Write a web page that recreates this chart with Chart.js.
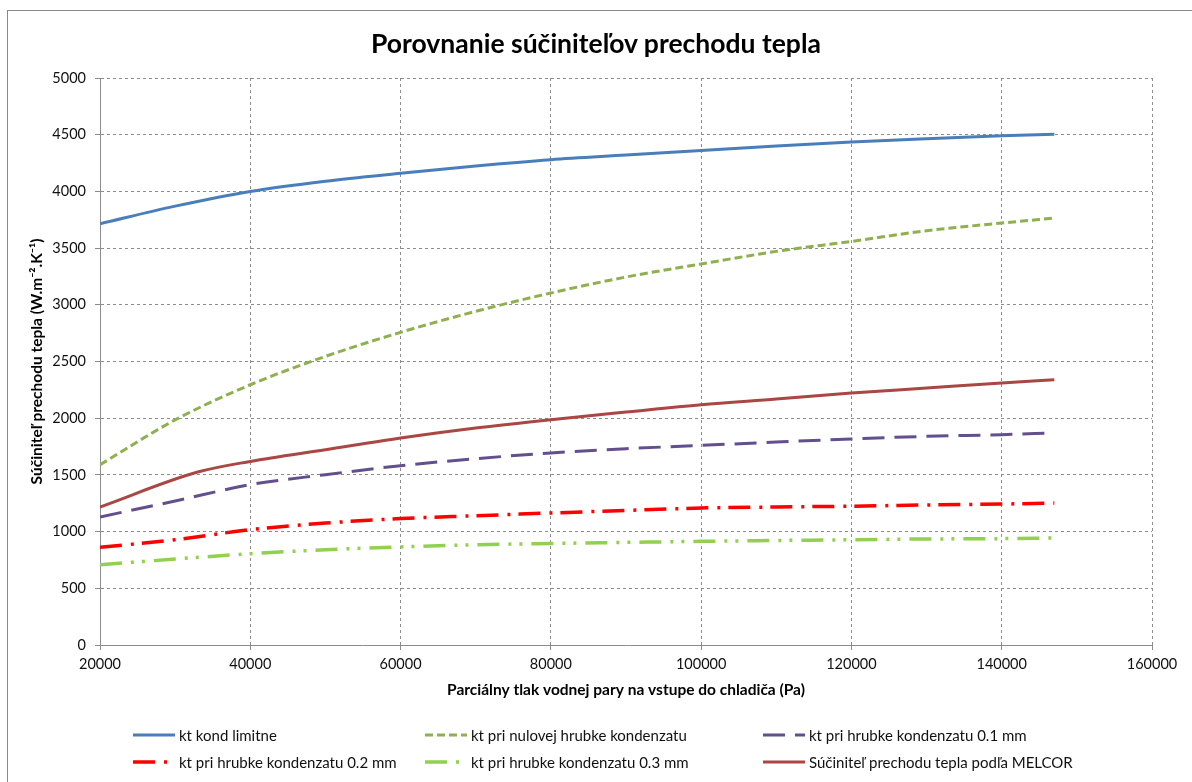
<!DOCTYPE html>
<html>
<head>
<meta charset="utf-8">
<script src="https://cdn.jsdelivr.net/npm/chart.js@4/dist/chart.umd.min.js"></script>
<style>
  body { margin: 0; background: #fff; }
  #wrap { position: relative; width: 1192px; height: 782px; overflow: hidden; font-family: Lato, "Noto Sans", sans-serif; }
  #frame { position: absolute; left: 7px; top: 10px; width: 1300px; height: 900px; border-left: 1px solid #8a8a8a; border-top: 1px solid #8a8a8a; }
  #chart { position: absolute; left: 0; top: 0; }
  #title { position: absolute; left: 0; top: 28px; width: 1192px; text-align: center; font-size: 26.5px; line-height: 30px; font-weight: bold; color: #000; }
  #legend { position: absolute; left: 0; top: 0; width: 1192px; height: 782px; pointer-events: none; }
  .item { position: absolute; display: flex; align-items: center; font-size: 15px; color: #111; white-space: nowrap; }
  .item svg { margin-right: 4px; }
</style>
</head>
<body>
<div id="wrap">
  <div id="frame"></div>
  <canvas id="chart" width="1192" height="782"></canvas>
  <div id="title">Porovnanie súčiniteľov prechodu tepla</div>
  <div id="legend"></div>
</div>
<script>
const FONT = 'Lato, "Noto Sans", sans-serif';

// x values (Pa)
const pressure = [20000, 30000, 40000, 50000, 60000, 70000, 80000, 90000, 100000, 110000, 120000, 130000, 140000, 147000];
const pressureMelcor = [20000, 33000, 40000, 50000, 60000, 70000, 80000, 90000, 100000, 110000, 120000, 130000, 140000, 147000];
const xTicks = [20000, 40000, 60000, 80000, 100000, 120000, 140000, 160000];
const yTicks = [0, 500, 1000, 1500, 2000, 2500, 3000, 3500, 4000, 4500, 5000];

// series (W.m-2.K-1)
const ktLimit   = [3715, 3870, 4000, 4090, 4160, 4225, 4280, 4320, 4360, 4400, 4436, 4465, 4491, 4503];
const ktZero    = [1590, 1985, 2295, 2545, 2757, 2942, 3104, 3245, 3360, 3471, 3559, 3653, 3721, 3765];
const kt01      = [1129, 1270, 1414, 1502, 1581, 1643, 1693, 1731, 1760, 1790, 1817, 1840, 1855, 1870];
const kt02      = [861, 928, 1017, 1075, 1115, 1140, 1164, 1187, 1208, 1217, 1224, 1235, 1243, 1252];
const kt03      = [708, 758, 805, 840, 865, 884, 895, 905, 914, 922, 928, 935, 938, 944];
const ktMelcor  = [1217, 1525, 1619, 1722, 1825, 1913, 1987, 2054, 2119, 2169, 2222, 2266, 2310, 2339];

const names = [
  'kt kond limitne',
  'kt pri nulovej hrubke kondenzatu',
  'kt pri hrubke kondenzatu 0.1 mm',
  'kt pri hrubke kondenzatu 0.2 mm',
  'kt pri hrubke kondenzatu 0.3 mm',
  'Súčiniteľ prechodu tepla podľa MELCOR'
];

function pts(xs, ys) { return xs.map((x, i) => ({ x: x, y: ys[i] })); }

const datasets = [
  { label: names[0], data: pts(pressure, ktLimit),  borderColor: '#4a7ebb', borderWidth: 3, borderDash: [] },
  { label: names[1], data: pts(pressure, ktZero),   borderColor: '#8fb04f', borderWidth: 3, borderDash: [8, 4] },
  { label: names[2], data: pts(pressure, kt01),     borderColor: '#634f8e', borderWidth: 3, borderDash: [22, 10] },
  { label: names[3], data: pts(pressure, kt02),     borderColor: '#ff0000', borderWidth: 3.5, borderDash: [22, 9, 3, 8] },
  { label: names[4], data: pts(pressure, kt03),     borderColor: '#92d050', borderWidth: 3.5, borderDash: [22, 9, 3, 8, 3, 9] },
  { label: names[5], data: pts(pressureMelcor, ktMelcor), borderColor: '#aa4643', borderWidth: 3, borderDash: [] }
];

const gridColor = '#8c8c8c';

new Chart(document.getElementById('chart'), {
  type: 'line',
  data: { datasets: datasets },
  options: {
    responsive: false,
    animation: false,
    layout: { padding: { left: 0, right: 40, top: 78, bottom: 77 } },
    elements: { point: { radius: 0 }, line: { cubicInterpolationMode: 'monotone', borderCapStyle: 'butt' } },
    plugins: {
      legend: { display: false },
      tooltip: { enabled: false },
      title: { display: false }
    },
    scales: {
      x: {
        type: 'linear',
        min: xTicks[0],
        max: xTicks[xTicks.length - 1],
        afterBuildTicks: s => { s.ticks = xTicks.map(v => ({ value: v })); },
        afterFit: s => { s.height = 60; },
        ticks: { color: '#111', font: { family: FONT, size: 14.5 }, padding: 6, maxRotation: 0, callback: v => String(v) },
        grid: { color: gridColor, tickColor: gridColor, tickLength: 5, tickBorderDash: [] },
        border: { color: gridColor, width: 1, dash: [3, 3] },
        title: {
          display: true,
          text: 'Parciálny tlak vodnej pary na vstupe do chladiča (Pa)',
          color: '#000',
          font: { family: FONT, size: 15.5, weight: 'bold' },
          padding: { top: 0, bottom: 6 }
        }
      },
      y: {
        min: yTicks[0],
        max: yTicks[yTicks.length - 1],
        afterBuildTicks: s => { s.ticks = yTicks.map(v => ({ value: v })); },
        afterFit: s => { s.width = 100; },
        ticks: { color: '#111', font: { family: FONT, size: 14.5 }, padding: 9, callback: v => String(v) },
        grid: { color: gridColor, tickColor: gridColor, tickLength: 5, tickBorderDash: [] },
        border: { color: gridColor, width: 1, dash: [3, 3] },
        title: {
          display: true,
          text: 'Súčiniteľ prechodu tepla (W.m⁻².K⁻¹)',
          color: '#000',
          font: { family: FONT, size: 15.5, weight: 'bold' },
          padding: { top: 28, bottom: 0 }
        }
      }
    }
  }
});

// legend in three columns, two rows
const legendCols = [133, 425, 763];
const legendRows = [735, 762];
const legend = document.getElementById('legend');
datasets.forEach((ds, i) => {
  const div = document.createElement('div');
  div.className = 'item';
  div.style.left = legendCols[i % 3] + 'px';
  div.style.top = (legendRows[Math.floor(i / 3)] - 10) + 'px';
  div.style.height = '20px';
  const dash = ds.borderDash.length ? ds.borderDash.join(' ') : 'none';
  div.innerHTML = '<svg width="42" height="20"><line x1="0" y1="10" x2="42" y2="10" stroke="' + ds.borderColor +
    '" stroke-width="' + ds.borderWidth + '" stroke-dasharray="' + dash + '"/></svg><span>' + ds.label + '</span>';
  legend.appendChild(div);
});
</script>
</body>
</html>
